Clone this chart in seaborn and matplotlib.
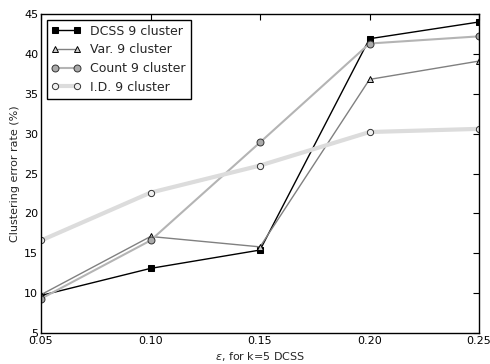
import matplotlib
matplotlib.use("Agg")
import matplotlib.pyplot as plt
import seaborn as sns
import pandas as pd

eps = [0.05, 0.10, 0.15, 0.20, 0.25]
dcss = [9.7, 13.1, 15.4, 41.9, 44.0]
var = [9.8, 17.1, 15.8, 36.8, 39.1]
count = [9.3, 16.6, 28.9, 41.3, 42.2]
idim = [16.6, 22.6, 26.0, 30.2, 30.6]

labels = ["DCSS 9 cluster", "Var. 9 cluster", "Count 9 cluster", "I.D. 9 cluster"]
series = [dcss, var, count, idim]

sns.set_style("white")
plt.rcParams["font.family"] = ["DejaVu Sans"]

fig = plt.figure(figsize=(4.9, 3.64), dpi=100)
ax = fig.add_axes([0.0837, 0.0852, 0.8939, 0.8763])

styles = [
    dict(color="black", lw=1.0, marker="s", ms=4.5, mfc="black", mec="black"),
    dict(color="#808080", lw=1.0, marker="^", ms=4.5, mfc="#cccccc", mec="black", mew=0.7),
    dict(color="#b4b4b4", lw=1.5, marker="o", ms=5, mfc="#aaaaaa", mec="#333333", mew=0.7),
    dict(color="#dcdcdc", lw=3.0, marker="o", ms=4.5, mfc="#f0f0f0", mec="#333333", mew=0.7),
]

for vals, lab, st in zip(series, labels, styles):
    df = pd.DataFrame({"eps": eps, "err": vals})
    sns.lineplot(data=df, x="eps", y="err", ax=ax, label=lab, **st)

ax.set_xlim(0.05, 0.25)
ax.set_ylim(5, 45)
ax.set_xticks(eps)
ax.set_xticklabels(["0.05", "0.10", "0.15", "0.20", "0.25"])
ax.set_yticks(range(5, 46, 5))
ax.tick_params(direction="in", length=4, width=0.8, top=True, right=True,
               labelsize=8, pad=2, colors="black")
for s in ax.spines.values():
    s.set_color("black")
    s.set_linewidth(1.0)

ax.set_xlabel(r"$\epsilon$, for k=5 DCSS", fontsize=8, labelpad=3)
ax.set_ylabel("Clustering error rate (%)", fontsize=8, labelpad=3)

leg = ax.legend(loc="upper left", fontsize=9, frameon=True, fancybox=False,
                edgecolor="black", framealpha=1, borderaxespad=0.45,
                handlelength=2.3, labelspacing=0.45, borderpad=0.4,
                numpoints=2)
leg.get_frame().set_linewidth(1.0)

fig.savefig("out.png", dpi=100)
